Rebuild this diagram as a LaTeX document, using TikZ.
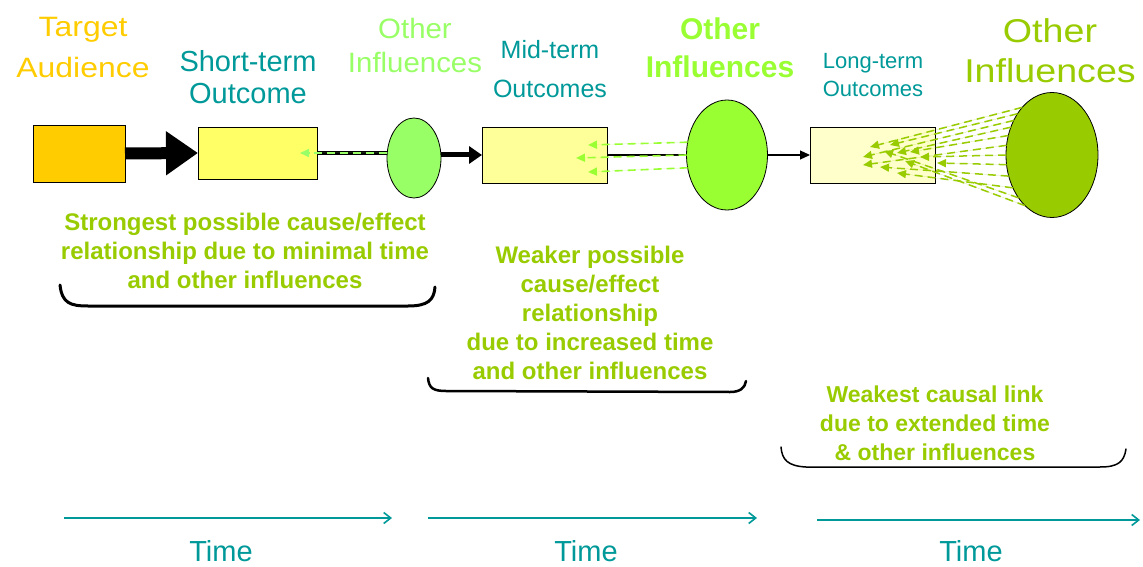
\documentclass[tikz,border=0pt]{standalone}
\usepackage{fontspec}
\setmainfont{Liberation Sans}
\newfontfamily\widesf[FakeStretch=1.14]{Liberation Sans}
\newfontfamily\semiwidesf[FakeStretch=1.05]{Liberation Sans}
\usetikzlibrary{shapes.geometric,arrows.meta}
\definecolor{audience}{HTML}{FFCC00}
\definecolor{shortfill}{HTML}{FFFF66}
\definecolor{midfill}{HTML}{FFFF99}
\definecolor{longfill}{HTML}{FFFFCC}
\definecolor{inflA}{HTML}{99FF66}
\definecolor{inflB}{HTML}{99FF33}
\definecolor{inflC}{HTML}{99CC00}
\definecolor{tealtxt}{HTML}{009999}
\tikzset{
  stagebox/.style={draw=black,line width=0.8pt,rectangle,inner sep=0pt,outer sep=0pt},
  infl/.style={draw=black,line width=0.8pt,ellipse,inner sep=0pt,outer sep=0pt},
  lbl/.style={align=center,inner sep=0pt},
  note/.style={align=center,inner sep=0pt,text=inflC,font=\fontsize{24}{29}\selectfont\bfseries},
  dashinfl/.style={line width=1.6pt,dash pattern=on 8pt off 5pt,-{Triangle[length=9pt,width=8pt]}},
  brace/.style={draw=black,line cap=round},
  timeline/.style={draw=tealtxt,line width=1.6pt,-{Straight Barb[length=7pt,width=11pt,line width=1.6pt]}},
  timelbl/.style={text=tealtxt,font=\fontsize{29}{34}\selectfont,inner sep=0pt}
}
\begin{document}
\begin{tikzpicture}[x=1pt,y=-1pt]
\useasboundingbox (0,0) rectangle (1143,567);
\fill[white] (0,0) rectangle (1143,567);

% headings
\node[lbl,text=audience,font=\widesf\fontsize{28}{41}\selectfont] (hAud) at (83,48) {Target\\Audience};
\node[lbl,text=tealtxt,font=\fontsize{29}{32}\selectfont] (hShort) at (248,77) {Short-term\\Outcome};
\node[lbl,text=inflA,font=\semiwidesf\fontsize{28}{34}\selectfont] (hInflA) at (415,45) {Other\\Influences};
\node[lbl,text=tealtxt,font=\fontsize{25}{39}\selectfont] (hMid) at (550,69) {Mid-term\\Outcomes};
\node[lbl,text=inflB,font=\fontsize{30}{38}\selectfont\bfseries] (hInflB) at (720,48) {Other\\Influences};
\node[lbl,text=tealtxt,font=\fontsize{22}{28}\selectfont] (hLong) at (873,75) {Long-term\\Outcomes};
\node[lbl,text=inflC,font=\widesf\fontsize{33}{40}\selectfont] (hInflC) at (1050,51) {Other\\Influences};

% stages and influences
\node[stagebox,fill=audience,minimum width=92pt,minimum height=57pt] (aud) at (79,153.5) {};
\node[stagebox,fill=shortfill,minimum width=119pt,minimum height=52pt] (sb) at (257.5,153) {};
\node[infl,fill=inflA,minimum width=54pt,minimum height=80pt] (e1) at (414,158) {};
\node[stagebox,fill=midfill,minimum width=125pt,minimum height=56pt] (mb) at (544.5,155) {};
\node[infl,fill=inflB,minimum width=81pt,minimum height=110pt] (e2) at (727,155) {};
\node[stagebox,fill=longfill,minimum width=125pt,minimum height=56pt] (lb) at (872.5,155) {};
\node[infl,fill=inflC,minimum width=92pt,minimum height=125pt] (e3) at (1052,155) {};

% main causal chain
\draw[line width=12pt,-{Triangle[length=32pt,width=42pt]}] (aud.east) -- (sb.west);
\draw[line width=4pt] (sb.east) -- (sb.east -| e1.west);
\draw[line width=5pt,-{Triangle[length=13pt,width=17pt]}] (e1.east |- mb.west) -- (mb.west);
\draw[line width=2pt] (mb.east) -- (e2.west);
\draw[line width=1.2pt,-{Triangle[length=10pt,width=9pt]}] (e2.east) -- (lb.west);

% influences acting on each stage
\coordinate (s1) at (300,153);
\draw[dashinfl,draw=inflA,fill=inflA] (sb.east -| e1.west) -- (s1);

\coordinate (m1) at (588,145);
\coordinate (m2) at (576,158);
\coordinate (m3) at (588,172);
\draw[dashinfl,draw=inflB,fill=inflB] (e2.162) -- (m1);
\draw[dashinfl,draw=inflB,fill=inflB] (e2.180) -- (m2);
\draw[dashinfl,draw=inflB,fill=inflB] (e2.198) -- (m3);

\coordinate (l1) at (870,147);
\coordinate (l2) at (890,145);
\coordinate (l3) at (863,157);
\coordinate (l4) at (897,153);
\coordinate (l5) at (910,152);
\coordinate (l6) at (863,165);
\coordinate (l7) at (920,157);
\coordinate (l8) at (937,163);
\coordinate (l9) at (880,167);
\coordinate (l10) at (897,173);
\coordinate (l11) at (884,151);
\coordinate (l12) at (905,161);
\foreach \a/\t in {122/l1,130/l2,138/l3,146/l4,156/l5,168/l6,180/l7,192/l8,206/l9,220/l10,232/l11,242/l12}
  \draw[dashinfl,draw=inflC,fill=inflC,line width=1.5pt] (e3.\a) -- (\t);

% strength notes
\node[note] (n1) at (245,251) {Strongest possible cause/effect\\relationship due to minimal time\\and other influences};
\draw[brace,line width=3pt] (60,285) .. controls (62,303) and (70,306) .. (88,306)
  -- (408,306) .. controls (428,306) and (434,300) .. (435,287);

\node[note] (n2) at (590,313) {Weaker possible\\cause/effect\\relationship\\due to increased time\\and other influences};
\draw[brace,line width=2.5pt] (428,378) .. controls (429,388) and (433,391) .. (446,391)
  -- (730,392) .. controls (740,392) and (745,388) .. (746,381);

\node[note,font=\fontsize{23}{29}\selectfont\bfseries] (n3) at (935,423) {Weakest causal link\\due to extended time\\\& other influences};
\draw[brace,line width=1.5pt] (781,447) .. controls (782,460) and (788,466) .. (806,467)
  -- (1100,467) .. controls (1118,467) and (1124,462) .. (1126,449);

% time axes
\coordinate (ta0) at (64,518);  \coordinate (ta1) at (392,518);
\coordinate (tb0) at (428,518); \coordinate (tb1) at (757,518);
\coordinate (tc0) at (817,520); \coordinate (tc1) at (1140,520);
\draw[timeline] (ta0) -- (ta1);
\draw[timeline] (tb0) -- (tb1);
\draw[timeline] (tc0) -- (tc1);
\node[timelbl] (tl1) at (221,551) {Time};
\node[timelbl] (tl2) at (586,551) {Time};
\node[timelbl] (tl3) at (971,551) {Time};
\end{tikzpicture}
\end{document}
